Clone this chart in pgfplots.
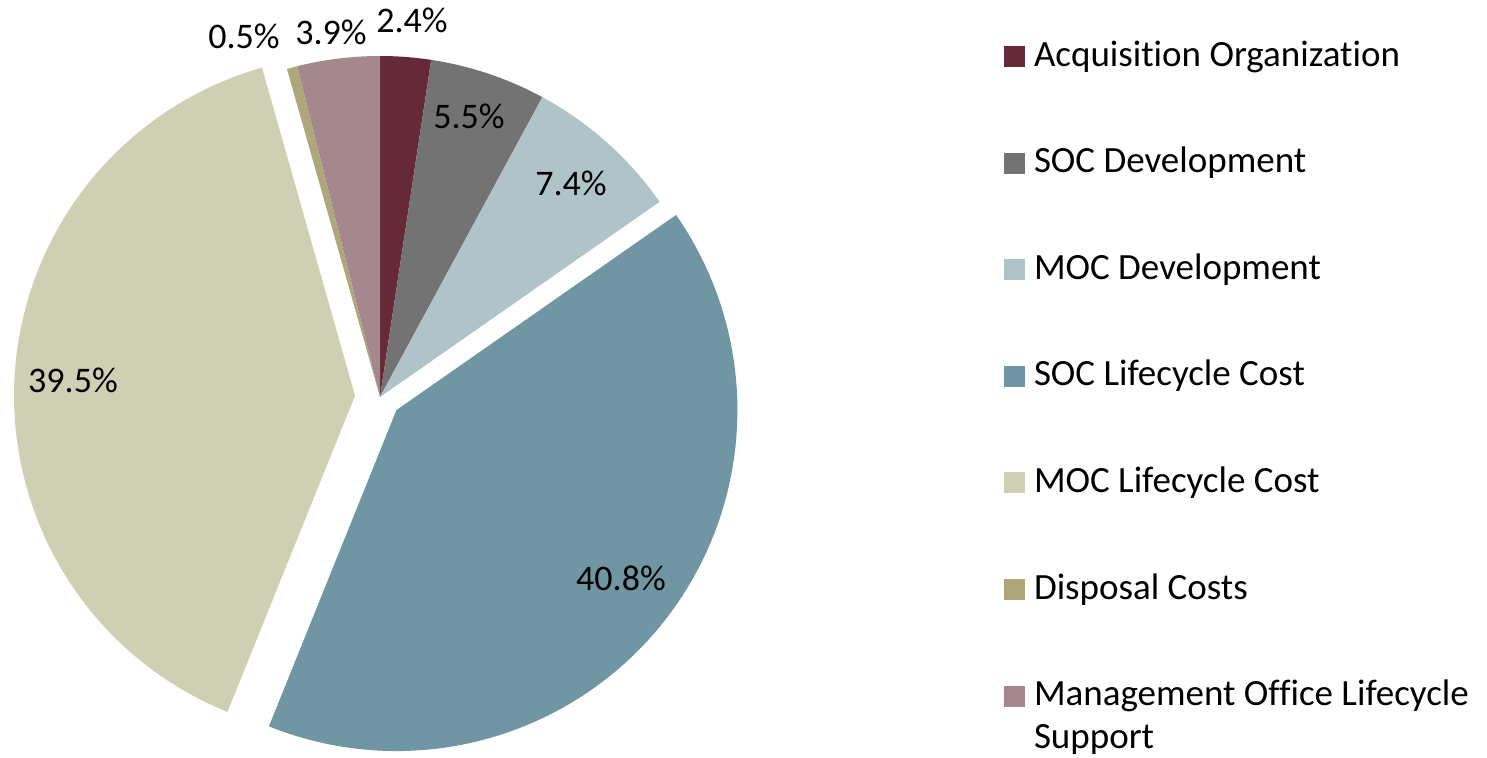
\documentclass[border=0pt]{standalone}
\usepackage{fontspec}
\setmainfont[Ligatures=NoCommon]{Carlito}
\usepackage{pgfplots}
\usepackage{pgfplotstable}
\pgfplotsset{compat=1.18}
\definecolor{c0}{HTML}{662938}
\definecolor{c1}{HTML}{737373}
\definecolor{c2}{HTML}{B0C3C8}
\definecolor{c3}{HTML}{7096A4}
\definecolor{c4}{HTML}{CFCFB4}
\definecolor{c5}{HTML}{ADA77B}
\definecolor{c6}{HTML}{A5888D}
% share (percent) and explode offset (px) of each slice, clockwise from 12 o'clock
\pgfplotstableread{
name pct ex
Acq   2.4  0
SOCd  5.5  0
MOCd  7.4  0
SOCl  40.8 21
MOCl  39.5 25
Disp  0.5  0
MOls  3.9  0
}\piedata
\begin{document}
\begin{tikzpicture}
\begin{axis}[
  scale only axis, width=743.5pt, height=378.5pt,
  xmin=0, xmax=1487, ymin=0, ymax=757,
  hide axis, clip=false,
  legend image code/.code={\fill[#1, draw=none] (0pt,-5.25pt) rectangle (10.5pt,5.25pt);},
  legend cell align=left,
  legend style={at={(axis cs:1004,717)}, anchor=north west, draw=none, fill=none,
    inner sep=0pt, outer sep=0pt, row sep=36.8pt, column sep=4.5pt,
    font=\fontsize{18.5}{22}\selectfont,
    nodes={inner sep=0pt, text height=13pt, text depth=3.5pt}},
]
\path (axis cs:0,0) rectangle (axis cs:1487,757);
\def\cum{0}
\pgfplotsforeachungrouped \i in {0,...,6}{%
  \pgfplotstablegetelem{\i}{pct}\of\piedata \let\p\pgfplotsretval
  \pgfplotstablegetelem{\i}{ex}\of\piedata \let\e\pgfplotsretval
  \pgfmathsetmacro\aEnd{90-3.6*\cum}%
  \pgfmathsetmacro\cum{\cum+\p}%
  \pgfmathsetmacro\aStart{90-3.6*\cum}%
  \pgfmathsetmacro\amid{(\aStart+\aEnd)/2}%
  \pgfmathsetmacro\ox{380+\e*cos(\amid)}%
  \pgfmathsetmacro\oy{360+\e*sin(\amid)}%
  \edef\doit{\noexpand\addplot[fill=c\i, draw=none, domain=\aStart:\aEnd, samples=90, variable=\noexpand\t, forget plot]
    ({\ox+341*cos(\noexpand\t)},{\oy+341*sin(\noexpand\t)}) -- (axis cs:\ox,\oy) -- cycle;}%
  \doit
}
\addlegendimage{fill=c0}\addlegendentry{Acquisition Organization}
\addlegendimage{fill=c1}\addlegendentry{SOC Development}
\addlegendimage{fill=c2}\addlegendentry{MOC Development}
\addlegendimage{fill=c3}\addlegendentry{SOC Lifecycle Cost}
\addlegendimage{fill=c4}\addlegendentry{MOC Lifecycle Cost}
\addlegendimage{fill=c5}\addlegendentry{Disposal Costs}
\addlegendimage{fill=c6}\addlegendentry{\vtop{\baselineskip=21.5pt\hbox{Management Office Lifecycle}\hbox{Support}}}
\begin{scope}[every node/.style={anchor=base, inner sep=0pt, font=\fontsize{18}{21}\selectfont}]
\node at (axis cs:412,724) {2.4\%};
\node at (axis cs:469,629) {5.5\%};
\node at (axis cs:571,562) {7.4\%};
\node at (axis cs:621,167) {40.8\%};
\node at (axis cs:73,364.3) {39.5\%};
\node at (axis cs:244,708) {0.5\%};
\node at (axis cs:331,712) {3.9\%};
\end{scope}
\end{axis}
\end{tikzpicture}
\end{document}
